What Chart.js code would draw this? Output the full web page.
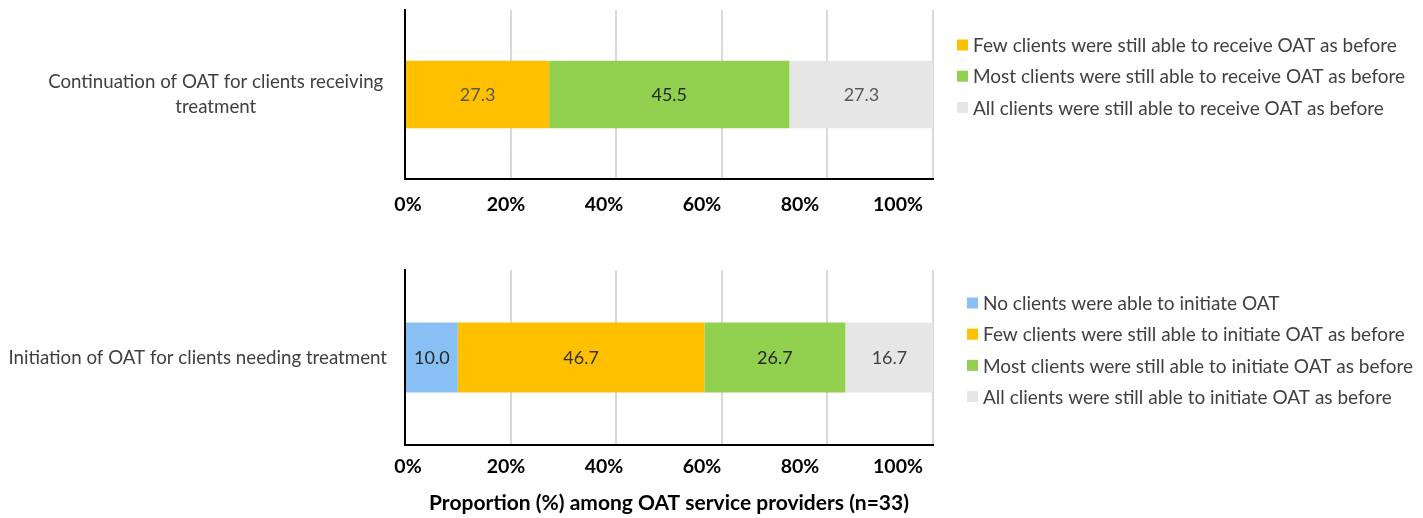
<!DOCTYPE html>
<html>
<head>
<meta charset="utf-8">
<script src="https://cdn.jsdelivr.net/npm/chart.js@4.4.1/dist/chart.umd.min.js"></script>
<style>
  body { margin: 0; background: #fff; }
  #wrap { position: relative; width: 1423px; height: 518px; }
  canvas { position: absolute; left: 0; }
  #continuation { top: 0; }
  #initiation { top: 250px; }
</style>
</head>
<body>
<div id="wrap">
  <canvas id="continuation" width="1423" height="250"></canvas>
  <canvas id="initiation" width="1423" height="268"></canvas>
</div>
<script>
// continuation of OAT for clients already in treatment
const continuationCategory = [['Continuation of OAT for clients receiving', 'treatment']];
const continuationLabels = [
  'Few clients were still able to receive OAT as before',
  'Most clients were still able to receive OAT as before',
  'All clients were still able to receive OAT as before'
];
const continuationValues = [27.3, 45.5, 27.3];

// initiation of OAT for new clients
const initiationCategory = ['Initiation of OAT for clients needing treatment'];
const initiationLabels = [
  'No clients were able to initiate OAT',
  'Few clients were still able to initiate OAT as before',
  'Most clients were still able to initiate OAT as before',
  'All clients were still able to initiate OAT as before'
];
const initiationValues = [10.0, 46.7, 26.7, 16.7];

const percentTicks = [0, 20, 40, 60, 80, 100];
const axisTitle = 'Proportion (%) among OAT service providers (n=33)';

const BLUE = '#88BFF4', YELLOW = '#FFC000', GREEN = '#92D050', GREY = '#E7E6E6';
const FONT = 'Lato';

// the percent labels run on their own, slightly tighter scale under the grid
const LABEL_MIN = -0.61, LABEL_MAX = 107.14;

const valueLabels = {
  id: 'valueLabels',
  afterDatasetsDraw(chart) {
    const ctx = chart.ctx;
    ctx.save();
    ctx.font = '18px ' + FONT;
    ctx.textAlign = 'center';
    ctx.textBaseline = 'middle';
    chart.data.datasets.forEach((ds, i) => {
      chart.getDatasetMeta(i).data.forEach((bar, j) => {
        const c = bar.getCenterPoint();
        ctx.fillStyle = ds.valueColor;
        ctx.fillText(ds.data[j].toFixed(1), c.x, c.y + 1);
      });
    });
    ctx.restore();
  }
};

const sideLegend = {
  id: 'sideLegend',
  afterDraw(chart, args, opts) {
    const { ctx, chartArea } = chart;
    const x = chartArea.right + opts.offsetX;
    ctx.save();
    ctx.font = '19px ' + FONT;
    ctx.textAlign = 'left';
    ctx.textBaseline = 'middle';
    chart.data.datasets.forEach((ds, i) => {
      const y = chartArea.top + opts.offsetY + i * opts.spacing;
      ctx.fillStyle = ds.backgroundColor;
      ctx.fillRect(x, y - 5.5, 11, 11);
      ctx.fillStyle = '#404040';
      ctx.fillText(ds.label, x + 16, y + 1);
    });
    ctx.restore();
  }
};

function useTicks(scale) {
  scale.ticks = percentTicks.map(v => ({ value: v }));
}

// fixed-width category axis; its label never needs extra room above or below
function fitCategoryAxis(scale) {
  scale.width = 405;
  scale.paddingTop = 0;
  scale.paddingBottom = 0;
}

function makeChart(id, category, labels, values, colors, valueColors, o) {
  const datasets = labels.map((label, i) => ({
    label: label,
    data: [values[i]],
    backgroundColor: colors[i],
    valueColor: valueColors[i],
    borderWidth: 0,
    barPercentage: 0.4,
    categoryPercentage: 1
  }));

  return new Chart(document.getElementById(id), {
    type: 'bar',
    data: { labels: category, datasets: datasets },
    plugins: [valueLabels, sideLegend],
    options: {
      indexAxis: 'y',
      responsive: false,
      animation: false,
      events: [],
      layout: { padding: { top: o.padTop, right: 490, bottom: o.padBottom, left: 0 } },
      scales: {
        x: {
          type: 'linear',
          stacked: true,
          min: 0,
          max: 100,
          afterBuildTicks: useTicks,
          ticks: { display: false },
          grid: { color: '#D9D9D9', lineWidth: 2, drawTicks: false },
          border: { color: '#000', width: 2 }
        },
        xl: {
          type: 'linear',
          position: 'bottom',
          weight: 1,
          min: LABEL_MIN,
          max: LABEL_MAX,
          afterBuildTicks: useTicks,
          ticks: {
            callback: v => v + '%',
            color: '#000',
            font: { family: FONT, size: 19.5, weight: 'bold', lineHeight: 1.2 },
            padding: o.tickPad,
            maxRotation: 0,
            autoSkip: false
          },
          grid: { display: false, drawTicks: false },
          border: { display: false },
          title: {
            display: !!o.title,
            text: o.title || '',
            color: '#000',
            font: { family: FONT, size: 21, weight: 'bold', lineHeight: 1.2 },
            padding: { top: 2, bottom: 0 }
          }
        },
        y: {
          type: 'category',
          stacked: true,
          afterFit: fitCategoryAxis,
          ticks: {
            color: '#404040',
            font: { family: FONT, size: 18.7, lineHeight: 1.3 },
            crossAlign: o.crossAlign,
            padding: o.labelPad
          },
          grid: { drawOnChartArea: false, drawTicks: false },
          border: { color: '#000', width: 2 }
        }
      },
      plugins: {
        legend: { display: false },
        tooltip: { enabled: false },
        sideLegend: o.legend
      }
    }
  });
}

Promise.all([
  document.fonts.load('19px ' + FONT),
  document.fonts.load('bold 21px ' + FONT)
]).catch(() => {}).then(() => {
  makeChart('continuation', continuationCategory, continuationLabels, continuationValues,
    [YELLOW, GREEN, GREY], ['#595959', '#262626', '#595959'],
    { padTop: 10, padBottom: 19.6, tickPad: 14, crossAlign: 'center', labelPad: 21.7,
      legend: { offsetX: 24, offsetY: 35, spacing: 31.2 } });

  makeChart('initiation', initiationCategory, initiationLabels, initiationValues,
    [BLUE, YELLOW, GREEN, GREY], ['#262626', '#333333', '#262626', '#404040'],
    { padTop: 20, padBottom: 2.4, tickPad: 10, crossAlign: 'near', labelPad: 18, title: axisTitle,
      legend: { offsetX: 34, offsetY: 33, spacing: 31.2 } });
});
</script>
</body>
</html>
